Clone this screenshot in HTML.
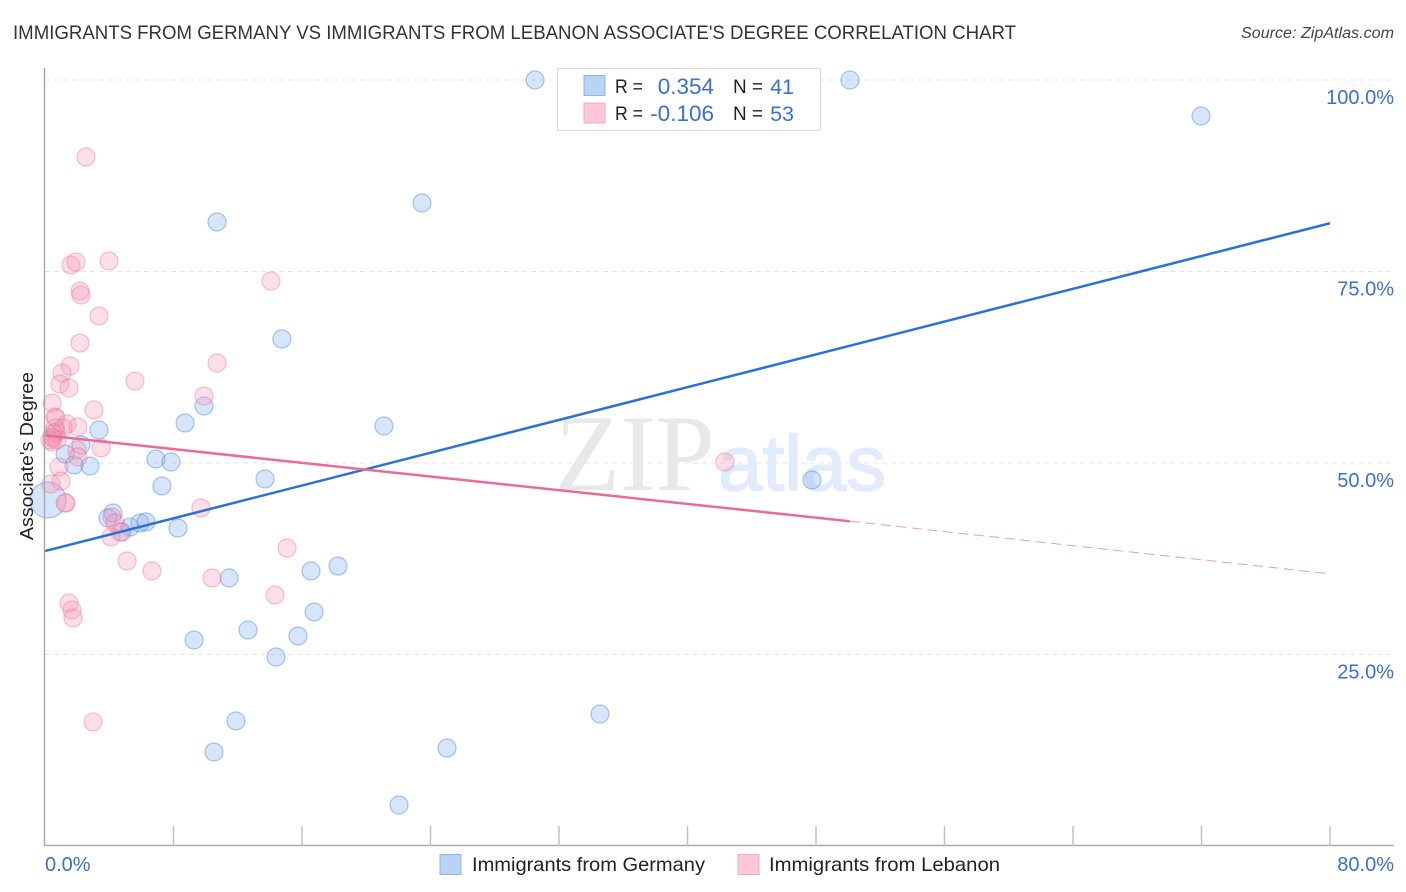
<!DOCTYPE html>
<html lang="en">
<head>
<meta charset="utf-8">
<title>Immigrants from Germany vs Immigrants from Lebanon Associate's Degree Correlation Chart</title>
<style>
html,body{margin:0;padding:0;background:#fff;}
body{width:1406px;height:892px;overflow:hidden;}
svg{display:block;font-family:"Liberation Sans",sans-serif;}
</style>
</head>
<body>
<svg id="chart" xmlns="http://www.w3.org/2000/svg" width="1406" height="892" viewBox="0 0 1406 892">
  <text x="13" y="39" font-size="19" fill="#333" textLength="1003" lengthAdjust="spacingAndGlyphs">IMMIGRANTS FROM GERMANY VS IMMIGRANTS FROM LEBANON ASSOCIATE'S DEGREE CORRELATION CHART</text>
  <text x="1241" y="38" font-size="15.5" font-style="italic" fill="#444" textLength="153" lengthAdjust="spacingAndGlyphs">Source: ZipAtlas.com</text>

  <g id="grid"></g>

  <g>
    <text x="555" y="490" font-family="'Liberation Serif',serif" font-size="109" fill="#e8e8e8" textLength="160" lengthAdjust="spacingAndGlyphs">ZIP</text>
    <text x="718" y="490" font-family="'Liberation Sans',sans-serif" font-size="78" fill="#e0ebfb" stroke="#e0ebfb" stroke-width="1.5" textLength="168" lengthAdjust="spacingAndGlyphs">atlas</text>
  </g>

  <g id="marks"></g>
  <g id="trends"></g>

  <line x1="44.5" y1="68" x2="44.5" y2="846" stroke="#aaa" stroke-width="1.5"/>
  <line x1="44" y1="845.5" x2="1394" y2="845.5" stroke="#aaa" stroke-width="1.5"/>
  <g id="xticks"></g>
  <g id="ylabels"></g>
  <g id="xlabels"></g>

  <text transform="translate(33,456) rotate(-90)" font-size="18" fill="#222" text-anchor="middle" textLength="168" lengthAdjust="spacingAndGlyphs">Associate's Degree</text>

  <g>
    <rect x="557.5" y="68.5" width="263" height="62" fill="#fff" stroke="#ddd" stroke-width="1.2"/>
    <rect x="584" y="75.5" width="21" height="20" fill="#b9d3f7" stroke="#8db5ea" stroke-width="1"/>
    <rect x="584" y="103" width="21" height="20" fill="#fcc8d8" stroke="#f3a9c0" stroke-width="1"/>
    <g font-size="19">
      <text x="615" y="93" fill="#222" textLength="28" lengthAdjust="spacingAndGlyphs">R =</text>
      <text x="714" y="94" fill="#3a70cf" font-size="22.5" text-anchor="end">0.354</text>
      <text x="733" y="93" fill="#222" textLength="30" lengthAdjust="spacingAndGlyphs">N =</text>
      <text x="794" y="94" fill="#3a70cf" font-size="21.5" text-anchor="end">41</text>
      <text x="615" y="120" fill="#222" textLength="28" lengthAdjust="spacingAndGlyphs">R =</text>
      <text x="714" y="121" fill="#3a70cf" font-size="22.5" text-anchor="end">-0.106</text>
      <text x="733" y="120" fill="#222" textLength="30" lengthAdjust="spacingAndGlyphs">N =</text>
      <text x="794" y="121" fill="#3a70cf" font-size="21.5" text-anchor="end">53</text>
    </g>
  </g>

  <g>
    <g>
      <rect x="440" y="854.5" width="21" height="20" fill="#b9d3f7" stroke="#8db5ea" stroke-width="1"/>
      <text x="472" y="871" font-size="19.5" fill="#222" textLength="233" lengthAdjust="spacingAndGlyphs">Immigrants from Germany</text>
    </g>
    <g>
      <rect x="738" y="854.5" width="21" height="20" fill="#fcc8d8" stroke="#f3a9c0" stroke-width="1"/>
      <text x="769" y="871" font-size="19.5" fill="#222" textLength="231" lengthAdjust="spacingAndGlyphs">Immigrants from Lebanon</text>
    </g>
  </g>
</svg>

<script>
const germanyX = [30.51,50.12,71.97,23.47,10.71,14.75,9.90,8.72,21.10,3.36,2.24,1.25,1.81,2.80,6.91,7.84,13.70,47.75,7.28,0.19,4.23,3.92,5.29,4.79,5.91,6.29,8.28,11.46,16.56,18.24,16.75,12.64,15.75,9.28,14.38,34.55,11.89,10.52,25.03,22.04,0.68];
const germanyY = [100,100,95.30,83.94,81.46,66.19,57.44,55.22,54.83,54.31,52.35,51.17,49.74,49.61,50.52,50.13,47.91,47.78,47.00,45.17,43.47,42.82,41.64,40.99,42.17,42.30,41.51,34.99,35.90,36.55,30.55,28.20,27.42,26.89,24.67,17.23,16.32,12.27,12.79,5.35,54.05];
const germanyWeight = [1,1,1,1,1,1,1,1,1,1,1,1,1,1,1,1,1,1,1,4,1,1,1,1,1,1,1,1,1,1,1,1,1,1,1,1,1,1,1,1,1];
const lebanonX = [2.55,1.62,1.93,3.98,14.07,2.18,2.24,3.36,2.18,10.71,1.56,1.06,0.93,1.49,5.60,9.90,0.44,3.05,0.62,0.68,1.37,2.05,1.12,0.50,0.44,0.50,0.44,3.49,1.99,2.05,0.87,1.00,0.37,1.31,1.25,9.71,4.17,4.36,4.67,4.11,5.11,6.66,10.40,15.07,14.32,1.49,1.68,1.74,2.99,42.33,0.75,0.31,0.62];
const lebanonY = [89.95,75.85,76.24,76.37,73.76,72.45,71.93,69.19,65.67,63.05,62.66,61.75,60.31,59.79,60.70,58.75,57.83,56.92,56.01,55.87,55.09,54.70,54.57,53.92,53.39,53.26,52.74,51.96,51.70,50.78,49.48,47.65,47.26,44.78,44.78,44.13,42.95,42.17,40.99,40.34,37.21,35.90,34.99,38.90,32.77,31.72,30.81,29.77,16.19,50.13,53.00,53.00,54.57];
const germanyTrendX = [0,80];
const germanyTrendY = [38.5,81.3];
const lebanonTrendX = [0,50.1];
const lebanonTrendY = [53.6,42.4];
const lebanonDashX = [50.1,79.7];
const lebanonDashY = [42.4,35.6];
const yTickValues = [100,75,50,25];
const yTickLabels = ["100.0%","75.0%","50.0%","25.0%"];
const xTickValues = [8,16,24,32,40,48,56,64,72,80];
const xEndValues = [0,80];
const xEndLabels = ["0.0%","80.0%"];

const NS = "http://www.w3.org/2000/svg";
function xScale(v){ return 45 + v * 16.0625; }
function yScale(v){ return 846 - v * 7.66; }
function make(parent, tag, attrs, text){
  const el = document.createElementNS(NS, tag);
  for (const k in attrs) el.setAttribute(k, attrs[k]);
  if (text !== undefined) el.textContent = text;
  parent.appendChild(el);
  return el;
}

const gridG = document.getElementById('grid');
const ylabG = document.getElementById('ylabels');
yTickValues.forEach(function(v, i){
  const g = make(gridG, 'line', {x1:45, x2:1394, y1:yScale(v), y2:yScale(v), stroke:'#e4e4e4', 'stroke-width':1, 'stroke-dasharray':'5 4'});
  
  
  const t = make(ylabG, 'text', {x:1394, y:yScale(v)+24, 'font-size':20, fill:'#3a70cf', 'text-anchor':'end'}, yTickLabels[i]);
  
  
});

const xtG = document.getElementById('xticks');
xTickValues.forEach(function(v){
  const l = make(xtG, 'line', {x1:xScale(v), x2:xScale(v), y1:826, y2:846, stroke:'#c2c2c2', 'stroke-width':1.5});
  
  
});

const xlabG = document.getElementById('xlabels');
xEndValues.forEach(function(v, i){
  const t = make(xlabG, 'text', {x: i === 0 ? xScale(v) : 1394, y:871, 'font-size':20, fill:'#3a70cf', 'text-anchor': i === 0 ? 'start' : 'end'}, xEndLabels[i]);
  
  
});

const marksG = document.getElementById('marks');
germanyX.forEach(function(v, i){
  const c = make(marksG, 'circle', {cx:xScale(v), cy:yScale(germanyY[i]), r:9 * Math.sqrt(germanyWeight[i]), fill:'rgba(122,170,238,0.3)', stroke:'rgba(70,130,220,0.45)', 'stroke-width':1.2});
  
  
});
lebanonX.forEach(function(v, i){
  const c = make(marksG, 'circle', {cx:xScale(v), cy:yScale(lebanonY[i]), r:9, fill:'rgba(248,150,180,0.3)', stroke:'rgba(235,110,150,0.42)', 'stroke-width':1.2});
  
  
});

const trendsG = document.getElementById('trends');
const tb = make(trendsG, 'line', {x1:xScale(germanyTrendX[0]), y1:yScale(germanyTrendY[0]), x2:xScale(germanyTrendX[1]), y2:yScale(germanyTrendY[1]), stroke:'#2a72d8', 'stroke-width':2.5});


const tp = make(trendsG, 'line', {x1:xScale(lebanonTrendX[0]), y1:yScale(lebanonTrendY[0]), x2:xScale(lebanonTrendX[1]), y2:yScale(lebanonTrendY[1]), stroke:'#ea6a9a', 'stroke-width':2.5});


const td = make(trendsG, 'line', {x1:xScale(lebanonDashX[0]), y1:yScale(lebanonDashY[0]), x2:xScale(lebanonDashX[1]), y2:yScale(lebanonDashY[1]), stroke:'#eb9ab8', 'stroke-width':1, 'stroke-dasharray':'10 5.6'});


</script>
</body>
</html>
